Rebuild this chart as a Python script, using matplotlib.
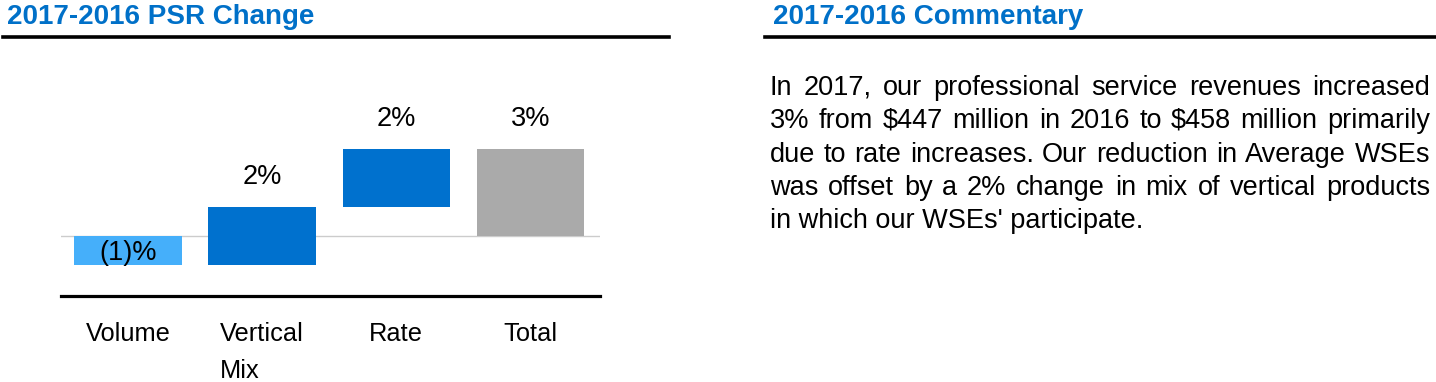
import matplotlib
matplotlib.use('Agg')
import matplotlib.pyplot as plt
from matplotlib.lines import Line2D

#%% Dados

categorias = ['Volume', 'Vertical\nMix', 'Rate', 'Total']
variacao = [-1, 2, 2, 3]
rotulos = ['(1)%', '2%', '2%', '3%']
cores = ['#45AFFA', '#0071CE', '#0071CE', '#AAAAAA']

titulo_esq = '2017-2016 PSR Change'
titulo_dir = '2017-2016 Commentary'
comentario = [
    'In 2017, our professional service revenues increased',
    '3% from $447 million in 2016 to $458 million primarily',
    'due to rate increases. Our reduction in Average WSEs',
    'was offset by a 2% change in mix of vertical products',
    "in which our WSEs' participate.",
]

#%% Configurações

plt.rcParams['font.family'] = ['Liberation Sans', 'DejaVu Sans']
W, H = 1436, 382
azul = '#0070C8'

fig = plt.figure(figsize=(W / 100, H / 100), dpi=100)

# cascata: base de cada barra = acumulado anterior, total parte do zero
bases = []
acum = 0
for i, v in enumerate(variacao):
    if i == len(variacao) - 1:
        bases.append(0)
    else:
        bases.append(acum)
        acum += v

ax = fig.add_axes([61 / W, (H - 296) / H, (600 - 61) / W, (296 - 100) / H])
x = list(range(len(categorias)))
ax.bar(x, variacao, bottom=bases, width=0.8, color=cores, zorder=2)
ax.axhline(0, color='#CCCCCC', lw=1, zorder=1)
ax.set_xlim(-0.5, 3.52)
ax.set_ylim(-60 / 29, 136 / 29)

for i, (v, b, r) in enumerate(zip(variacao, bases, rotulos)):
    if v < 0:
        ax.annotate(r, (i, b + v / 2), xytext=(0, -7), textcoords='offset points',
                    ha='center', va='baseline', fontsize=19.5, color='black', zorder=3)
    else:
        ax.annotate(r, (i, b + v), xytext=(0, 16.5), textcoords='offset points',
                    ha='center', va='baseline', fontsize=19.5, color='black')

for s in ['top', 'left', 'right']:
    ax.spines[s].set_visible(False)
ax.spines['bottom'].set_linewidth(2.3)
ax.spines['bottom'].set_color('black')
ax.set_yticks([])
ax.set_xticks(x)
ax.set_xticklabels(categorias, fontsize=18.3)
for t in ax.get_xticklabels():
    t.set_multialignment('left')
    t.set_linespacing(1.65)
ax.tick_params(axis='x', length=0, pad=19)

#%% Títulos e linhas

fig.text(7 / W, 1 - 24 / H, titulo_esq, ha='left', va='baseline', fontsize=20,
         fontweight='bold', color=azul)
fig.text(773 / W, 1 - 24 / H, titulo_dir, ha='left', va='baseline', fontsize=20,
         fontweight='bold', color=azul)
fig.add_artist(Line2D([3 / W, 669 / W], [1 - 36.5 / H] * 2, color='black', lw=2.6))
fig.add_artist(Line2D([765 / W, 1], [1 - 36.5 / H] * 2, color='black', lw=2.6))

#%% Comentário justificado

fig.canvas.draw()
renderer = fig.canvas.get_renderer()
x0, x1 = 770, 1430
baselines = [95, 128, 162, 195, 228]
for k, (linha, yb) in enumerate(zip(comentario, baselines)):
    if k == len(comentario) - 1:
        fig.text(x0 / W, 1 - yb / H, linha, ha='left', va='baseline', fontsize=19.5)
        continue
    palavras = linha.split(' ')
    textos = [fig.text(0, 1 - yb / H, p, ha='left', va='baseline', fontsize=19.5) for p in palavras]
    larguras = [t.get_window_extent(renderer).width for t in textos]
    gap = max((x1 - x0 - sum(larguras)) / (len(palavras) - 1), 2)
    pos = x0
    for t, w in zip(textos, larguras):
        t.set_x(pos / W)
        pos += w + gap

fig.savefig('out.png', dpi=100)
